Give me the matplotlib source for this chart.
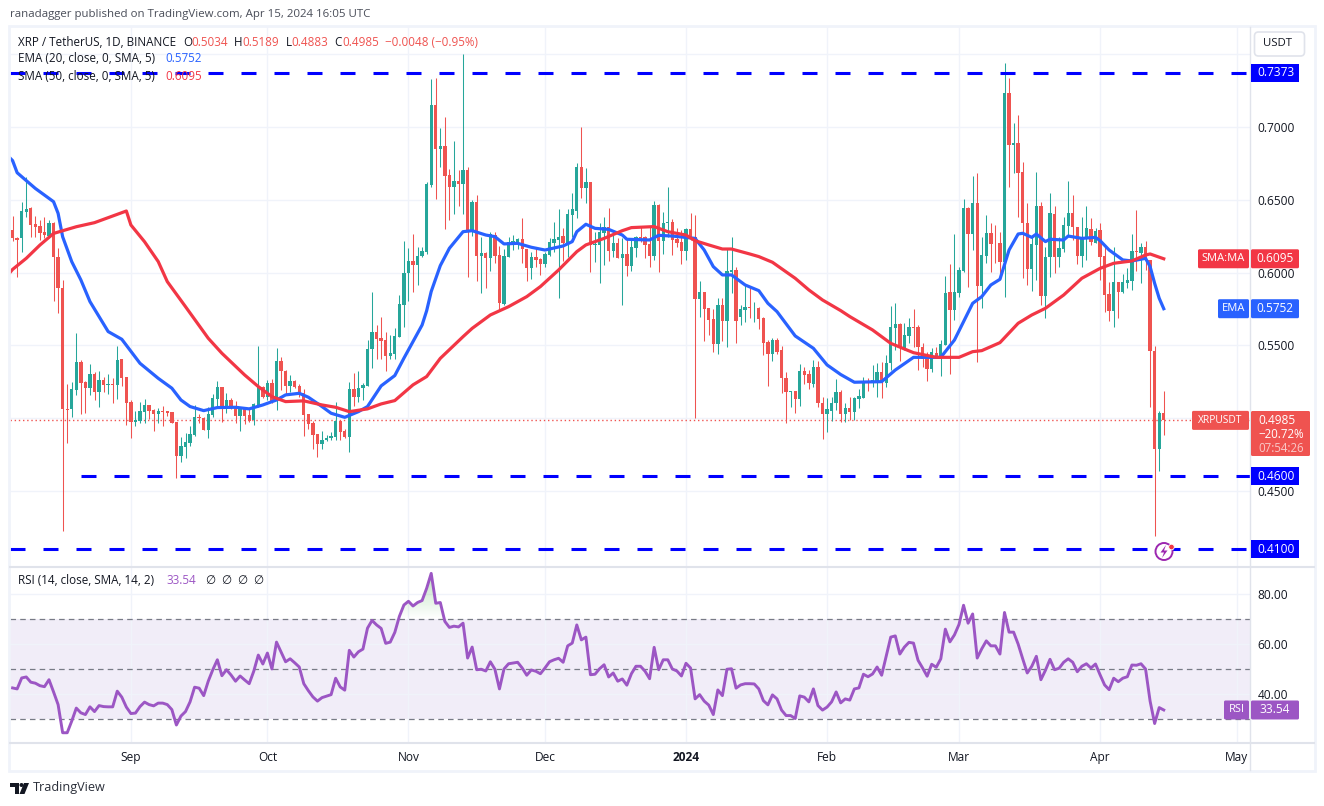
import numpy as np
import pandas as pd
import matplotlib
matplotlib.use("Agg")
import matplotlib.pyplot as plt
from matplotlib.patches import Rectangle, FancyBboxPatch, Circle, Polygon
from matplotlib.path import Path
from matplotlib.colors import LinearSegmentedColormap

plt.rcParams['font.family'] = ['Open Sans', 'DejaVu Sans']
plt.rcParams['lines.scale_dashes'] = False

W, H = 1324, 806

# daily candles, last one is Apr 15 2024 (day 105 counted from Jan 1)
opens = [
.6292,.6237,.6235,.6418,.6441,.6334,.6320,.6281,.6251,.6343,.6105,.5892,.5064,.5061,.5194,.5386,.5249,.5208,.5304,.5183,
.5263,.5231,.5235,.5229,.5405,.5283,.5112,.4977,.4981,.5041,.5091,.5057,.5029,.5052,.5048,.5041,.4974,.4741,.4805,.4832,
.4885,.5009,.5002,.4919,.5022,.5132,.5215,.5068,.5126,.5080,.5018,.5061,.5022,.4986,.5084,.5215,.5144,.5240,.5121,.5393,
.5327,.5222,.5256,.5222,.5171,.5029,.4965,.4892,.4823,.4851,.4865,.4874,.4979,.4910,.4874,.5199,.5148,.5206,.5224,.5474,
.5590,.5549,.5538,.5428,.5441,.5560,.5778,.5995,.6082,.6052,.6114,.6144,.6602,.7151,.6852,.6870,.6670,.6590,.6629,.6609,
.6705,.6281,.6483,.6114,.6132,.6103,.6258,.6121,.5785,.6110,.6208,.6208,.6231,.6160,.6034,.6105,.6093,.6059,.6121,.6201,
.6224,.6251,.6201,.6396,.6423,.6723,.6583,.6620,.6190,.6190,.6274,.6316,.6151,.6201,.6100,.6128,.6045,.6169,.6247,.6242,
.6197,.6114,.6464,.6220,.6341,.6348,.6231,.6213,.6149,.6297,.6242,.5819,.5865,.5755,.5679,.5510,.5778,.5670,.6004,.6018,
.5697,.5746,.5764,.5757,.5759,.5691,.5526,.5441,.5537,.5469,.5274,.5182,.5185,.5134,.5322,.5304,.5235,.5354,.5107,.5029,
.5052,.5102,.5182,.5029,.5068,.5045,.5134,.5141,.5258,.5254,.5244,.5320,.5244,.5377,.5620,.5647,.5480,.5565,.5629,.5629,
.5487,.5411,.5338,.5446,.5418,.5503,.5865,.5743,.5862,.6009,.6444,.6265,.6476,.5908,.6114,.6272,.6197,.6203,.6075,.7231,
.6877,.6888,.6691,.6343,.6025,.6190,.6458,.5840,.6105,.6403,.6105,.6162,.6322,.6407,.6316,.6114,.6242,.6300,.6206,.6290,
.6114,.5853,.5739,.5933,.5865,.5931,.5945,.6148,.6137,.6174,.6087,.5464,.4788,.5034]
highs = [
.6388,.6247,.6487,.6659,.6448,.6388,.6361,.6384,.6361,.6350,.6166,.5950,.5235,.5251,.5583,.5400,.5258,.5373,.5320,.5325,
.5281,.5304,.5274,.5496,.5409,.5285,.5125,.5052,.5114,.5130,.5093,.5064,.5071,.5084,.5052,.5045,.4976,.4869,.4901,.4947,
.5091,.5029,.5011,.5075,.5164,.5256,.5217,.5171,.5137,.5119,.5080,.5080,.5068,.5103,.5496,.5222,.5263,.5267,.5480,.5423,
.5331,.5297,.5263,.5235,.5199,.5029,.4984,.4892,.4913,.4885,.4908,.5109,.4984,.4924,.5251,.5309,.5325,.5245,.5538,.5865,
.5641,.5693,.5590,.5572,.5618,.5847,.6214,.6166,.6265,.6178,.6178,.6624,.7330,.7334,.6991,.7067,.6709,.6904,.6705,.7502,
.6723,.6499,.6533,.6247,.6144,.6281,.6281,.6183,.6160,.6247,.6258,.6235,.6373,.6164,.6144,.6174,.6100,.6144,.6235,.6345,
.6435,.6304,.6435,.6545,.6755,.7000,.6716,.6625,.6281,.6343,.6384,.6442,.6281,.6235,.6235,.6235,.6224,.6251,.6316,.6251,
.6316,.6492,.6471,.6419,.6586,.6366,.6304,.6293,.6304,.6407,.6396,.5942,.5869,.5755,.5748,.5823,.5823,.6160,.6242,.6036,
.5778,.5915,.5899,.5801,.5762,.5697,.5537,.5549,.5549,.5496,.5317,.5189,.5189,.5372,.5354,.5331,.5400,.5395,.5148,.5137,
.5148,.5267,.5194,.5102,.5148,.5144,.5198,.5281,.5274,.5366,.5377,.5388,.5434,.5771,.5789,.5652,.5652,.5686,.5748,.5640,
.5514,.5457,.5480,.5487,.5537,.5977,.6059,.6265,.6041,.6505,.6453,.6664,.6682,.6242,.6396,.6339,.6327,.6281,.7437,.7334,
.7025,.7083,.6762,.6476,.6258,.6691,.6487,.6178,.6545,.6458,.6247,.6384,.6629,.6533,.6316,.6384,.6458,.6373,.6304,.6339,
.6178,.5938,.6178,.5938,.5991,.6029,.6265,.6430,.6206,.6217,.6087,.5496,.5050,.5189]
lows = [
.6219,.5973,.6144,.6384,.6247,.6247,.6224,.6235,.6242,.5808,.5725,.4228,.4832,.5011,.5160,.5029,.5034,.5160,.5126,.5080,
.5183,.5167,.5107,.5132,.5222,.4954,.4867,.4947,.4970,.4970,.4997,.4913,.4970,.4947,.5016,.4965,.4590,.4702,.4729,.4812,
.4878,.4970,.4919,.4867,.5011,.5068,.4972,.5038,.5064,.4965,.4915,.4961,.4972,.4954,.5080,.5137,.5126,.5103,.5057,.5194,
.5160,.5183,.5206,.5148,.4880,.4924,.4791,.4736,.4789,.4840,.4851,.4851,.4851,.4862,.4771,.5084,.5114,.5126,.5222,.5348,
.5407,.5407,.5327,.5407,.5407,.5556,.5629,.5808,.5870,.5915,.6105,.6130,.6590,.6505,.6728,.6300,.6361,.6403,.6458,.6403,
.5972,.6254,.5945,.5862,.5897,.6013,.6068,.5739,.5778,.6110,.6155,.6160,.6068,.5945,.5958,.6041,.5983,.6036,.6116,.6144,
.5823,.6082,.6110,.6247,.6373,.6510,.6476,.6007,.6071,.5931,.6052,.6082,.6110,.6100,.5778,.5977,.6013,.6105,.6213,.6098,
.6036,.6087,.6007,.6128,.6247,.6121,.6174,.6059,.6087,.6224,.5001,.5698,.5533,.5572,.5455,.5443,.5531,.5491,.5858,.5519,
.5638,.5663,.5686,.5663,.5615,.5434,.5224,.5395,.5441,.5171,.4970,.5079,.5038,.5084,.5235,.5198,.5217,.5075,.4860,.4905,
.4983,.5056,.4976,.4976,.4988,.4988,.5068,.5137,.5189,.5217,.5143,.5137,.5212,.5331,.5469,.5391,.5469,.5514,.5492,.5331,
.5354,.5258,.5320,.5411,.5292,.5503,.5304,.5675,.5835,.6007,.5903,.6155,.5388,.5759,.6064,.6007,.6064,.5961,.5835,.6590,
.6687,.6384,.5961,.5915,.5876,.5950,.5778,.5686,.5972,.5995,.6041,.6144,.6258,.6224,.6059,.6041,.6087,.6190,.6201,.5950,
.5732,.5670,.5629,.5691,.5858,.5892,.5881,.6013,.5931,.6018,.5075,.4191,.4637,.4883]
closes = [
.6237,.6225,.6423,.6434,.6327,.6315,.6274,.6258,.6343,.6105,.5892,.5061,.5057,.5199,.5386,.5245,.5208,.5304,.5183,.5263,
.5231,.5235,.5231,.5400,.5279,.5107,.4977,.4986,.5050,.5091,.5052,.5029,.5050,.5045,.5039,.4970,.4741,.4810,.4837,.4892,
.5006,.5002,.4919,.5029,.5137,.5215,.5068,.5126,.5068,.5018,.5061,.5018,.4984,.5096,.5217,.5144,.5240,.5121,.5393,.5327,
.5222,.5256,.5212,.5164,.5022,.4961,.4885,.4823,.4851,.4865,.4878,.4984,.4908,.4874,.5199,.5148,.5208,.5229,.5476,.5590,
.5544,.5531,.5428,.5448,.5565,.5785,.5995,.6082,.6052,.6114,.6148,.6608,.7151,.6847,.6870,.6664,.6590,.6629,.6609,.6705,
.6281,.6483,.6116,.6132,.6103,.6265,.6116,.5789,.6114,.6208,.6215,.6231,.6160,.6034,.6105,.6087,.6059,.6128,.6208,.6229,
.6242,.6201,.6403,.6435,.6723,.6583,.6622,.6190,.6197,.6279,.6316,.6151,.6201,.6100,.6128,.6045,.6174,.6242,.6235,.6192,
.6114,.6464,.6220,.6341,.6348,.6224,.6201,.6149,.6297,.6236,.5819,.5865,.5752,.5675,.5510,.5778,.5670,.6011,.6018,.5670,
.5748,.5764,.5757,.5760,.5684,.5519,.5441,.5537,.5457,.5274,.5182,.5187,.5134,.5322,.5297,.5240,.5350,.5107,.5029,.5063,
.5102,.5182,.5029,.5068,.5045,.5137,.5153,.5258,.5251,.5263,.5320,.5244,.5382,.5624,.5647,.5480,.5572,.5624,.5620,.5491,
.5404,.5338,.5453,.5423,.5510,.5858,.5743,.5865,.6018,.6444,.6265,.6476,.5910,.6121,.6272,.6197,.6193,.6075,.7231,.6877,
.6888,.6687,.6343,.6025,.6197,.6458,.5842,.6105,.6410,.6110,.6167,.6327,.6407,.6316,.6116,.6247,.6304,.6213,.6288,.6110,
.5849,.5739,.5933,.5869,.5933,.5949,.6148,.6142,.6174,.6087,.5464,.4788,.5034,.4985]

ema_days = [-149,-148,-147,-143,-139,-138,-137,-135,-133,-131,-129,-127,-124,-120,-116,-113,-111,-109,-106,-103,-99,-96,-93,-90,-88,-85,-83,-80,-78,-75,-72,-70,-67,-64,-62,-58,-57,-56,-54,-52,-49,-47,-44,-42,-40,-37,-34,-31,-27,-25,-24,-22,-20,-17,-14,-13,-8,-6,-3,2,4,6,8,10,13,16,18,20,24,28,31,34,37,43,46,50,56,59,61,63,65,67,69,71,73,74,76,77,79,80,83,84,87,90,91,93,96,98,101,102,103,104,105]
ema_vals = [.6800,.6769,.6686,.6578,.6487,.6407,.6246,.6075,.5950,.5801,.5698,.5595,.5542,.5377,.5274,.5206,.5125,.5080,.5052,.5073,.5075,.5064,.5091,.5125,.5160,.5171,.5144,.5080,.5034,.5006,.5045,.5080,.5222,.5293,.5412,.5640,.5738,.5870,.6048,.6167,.6281,.6288,.6258,.6247,.6197,.6201,.6174,.6155,.6183,.6213,.6281,.6332,.6304,.6297,.6258,.6229,.6224,.6256,.6251,.6235,.6155,.6041,.5984,.5984,.5915,.5876,.5789,.5732,.5565,.5480,.5366,.5300,.5247,.5251,.5331,.5418,.5418,.5537,.5663,.5789,.5835,.5915,.5954,.6155,.6265,.6270,.6242,.6265,.6213,.6229,.6224,.6251,.6235,.6242,.6220,.6155,.6087,.6080,.6098,.6041,.5926,.5824,.5752]
sma_days = [-149,-148,-145,-142,-139,-134,-130,-123,-122,-119,-116,-114,-110,-105,-102,-97,-94,-91,-88,-84,-80,-77,-74,-70,-67,-64,-60,-57,-54,-49,-47,-43,-39,-35,-32,-28,-24,-22,-18,-14,-12,-7,-4,0,2,5,8,10,14,16,19,24,27,30,34,36,41,45,50,55,60,63,65,69,73,76,79,83,87,91,94,98,101,102,105]
sma_vals = [.5985,.6022,.6098,.6189,.6269,.6315,.6343,.6423,.6327,.6212,.6076,.5938,.5766,.5549,.5446,.5297,.5217,.5148,.5114,.5119,.5091,.5075,.5045,.5064,.5098,.5121,.5229,.5286,.5411,.5560,.5617,.5709,.5766,.5835,.5904,.6018,.6144,.6190,.6235,.6288,.6309,.6316,.6281,.6258,.6219,.6190,.6162,.6162,.6128,.6110,.6071,.5961,.5881,.5812,.5739,.5698,.5606,.5514,.5450,.5418,.5418,.5457,.5464,.5519,.5652,.5709,.5755,.5846,.5961,.6029,.6064,.6080,.6121,.6128,.6095]

rsi_vals = [
42.4,42.0,46.4,46.8,44.7,44.3,43.3,42.9,45.7,40.8,35.7,24.4,24.4,29.1,34.3,32.4,31.7,34.8,32.9,35.3,34.9,34.8,34.8,41.1,38.7,34.7,32.1,32.3,34.9,36.7,
35.7,35.2,36.3,36.3,35.7,33.7,27.5,31.1,32.9,36.8,42.7,42.3,39.3,45.1,49.7,53.7,47.3,49.7,47.6,45.1,47.2,45.6,44.1,49.1,55.6,52.0,56.4,50.0,60.8,56.8,
52.9,54.1,52.5,50.8,44.1,41.3,38.8,37.1,38.5,39.1,39.7,46.3,42.8,41.5,57.5,54.8,56.9,58.0,66.4,69.5,67.7,66.3,60.3,60.8,64.7,71.1,75.7,77.2,75.3,76.7,
77.5,82.4,88.4,76.4,76.7,69.1,66.7,67.2,66.9,68.4,54.4,58.8,49.7,49.9,49.2,52.9,49.9,42.0,50.0,52.1,52.4,52.7,50.4,47.5,49.6,49.1,48.1,50.4,52.9,53.7,
54.3,52.7,59.3,60.4,67.7,61.7,62.8,47.7,47.9,50.1,51.7,46.8,48.4,45.1,46.0,43.5,48.1,51.1,51.1,49.1,46.1,58.7,49.7,
53.7,53.7,50.0,49.2,47.2,52.3,50.4,38.0,39.7,37.1,35.5,31.7,41.6,39.3,49.9,50.1,42.3,43.6,44.1,44.1,44.0,42.0,37.3,35.6,39.6,38.0,33.5,31.3,31.3,30.1,
39.2,38.7,36.8,42.0,35.3,33.5,34.7,36.8,40.8,36.4,38.0,37.5,42.0,42.4,47.9,46.9,48.0,50.8,47.5,55.1,62.8,63.3,56.0,58.8,60.7,60.4,53.5,50.4,47.1,51.9,
50.7,54.1,66.0,60.9,63.7,67.9,75.6,68.4,72.1,54.4,58.1,61.3,59.3,59.3,56.0,72.7,64.8,64.8,60.0,54.1,48.4,51.1,55.1,45.7,49.5,53.9,49.7,50.3,52.7,54.1,
52.7,48.9,51.1,52.1,50.4,52.0,47.7,43.6,41.7,46.3,44.9,46.3,46.9,51.6,51.5,52.1,50.0,37.1,28.1,34.5,33.54]

levels = [0.7373, 0.46, 0.41]
price_ticks = [0.75, 0.70, 0.65, 0.60, 0.55, 0.50, 0.45]
rsi_ticks = [40, 60, 80]
month_names = ['Sep', 'Oct', 'Nov', 'Dec', '2024', 'Feb', 'Mar', 'Apr', 'May']
month_dates = ['2023-09-01', '2023-10-01', '2023-11-01', '2023-12-01', '2024-01-01',
               '2024-02-01', '2024-03-01', '2024-04-01', '2024-05-01']

GREEN = '#26a69a'
RED = '#ef5350'
BLUE = '#2962ff'
MA_RED = '#f23645'
PURPLE = '#9c56c4'
GRID = '#f0f3fa'
BORDER = '#e0e3eb'
TXT = '#131722'
FS = 8.4

# pixel layout of the panes
X0, X1 = 10, 1250
Y0, Y1, Y2, Y3 = 27, 566, 567, 743
PX_DAY = 4.55
JAN1 = 686

def pane(x0, y0, x1, y1):
    return fig.add_axes([x0 / W, 1 - y1 / H, (x1 - x0) / W, (y1 - y0) / H])

def price_y(p):
    return 127 + (0.7 - p) * 1456

fig = plt.figure(figsize=(W / 100, H / 100), dpi=100, facecolor='white')
ax = pane(X0, Y0, X1, Y1)
ax2 = pane(X0, Y2, X1, Y3)
top = fig.add_axes([0, 0, 1, 1], zorder=10)
top.set_xlim(0, W)
top.set_ylim(H, 0)
top.axis('off')

n = len(closes)
days = np.arange(105 - n + 1, 106)
o = np.array(opens)
h = np.array(highs)
l = np.array(lows)
c = np.array(closes)
cols = np.where(c >= o, GREEN, RED)

xlim = ((X0 - JAN1) / PX_DAY, (X1 - JAN1) / PX_DAY)
month_days = [(pd.Timestamp(d) - pd.Timestamp('2024-01-01')).days for d in month_dates]

for a in (ax, ax2):
    a.set_xticks(month_days)
    a.grid(True, color=GRID, lw=1)
    a.set_axisbelow(True)
    for s in a.spines.values():
        s.set_visible(False)
    a.yaxis.tick_right()
    a.tick_params(length=0, labelsize=8.6, labelcolor=TXT)

# candles
ax.vlines(days, l, h, colors=cols, lw=0.75, zorder=2)
ax.bar(days, np.maximum(np.abs(c - o), 0.0003), bottom=np.minimum(o, c), width=0.74, color=cols, lw=0, zorder=3)

ax.plot(ema_days, ema_vals, color=BLUE, lw=2.3, zorder=4, solid_joinstyle='round')
ax.plot(sma_days, sma_vals, color=MA_RED, lw=2.3, zorder=4, solid_joinstyle='round')

# horizontal levels
dash = (0, (10.8, 12.96))
ax.plot(xlim, [levels[0]] * 2, color='#0000ff', lw=2.2, ls=dash, dash_capstyle='butt', zorder=5)
ax.plot([(81 - JAN1) / PX_DAY, xlim[1]], [levels[1]] * 2, color='#0000ff', lw=2.2, ls=dash, dash_capstyle='butt', zorder=5)
ax.plot(xlim, [levels[2]] * 2, color='#0000ff', lw=2.2, ls=dash, dash_capstyle='butt', zorder=5)
ax.axhline(closes[-1], color=RED, lw=1, ls=(0, (1, 2)), zorder=1)

ax.set_xlim(xlim)
ax.set_ylim(0.7 - (Y1 - 127) / 1456, 0.7 + (127 - Y0) / 1456)
# 0.7500 and 0.5000 have a grid line but no visible label in the picture
ax.set_yticks(price_ticks, ['' if t in (0.75, 0.50) else '%.4f' % t for t in price_ticks])
ax.set_xticklabels([])
ax.tick_params(axis='y', pad=5.5)

# rsi pane
rsi = np.array(rsi_vals)
rsi_days = np.arange(105 - len(rsi) + 1, 106)
ax2.axhspan(30, 70, color='#7e57c2', alpha=0.1, lw=0, zorder=0.5)
for v in (70, 50, 30):
    ax2.axhline(v, color='#787b86', lw=0.9, ls=(0, (4, 3)), zorder=1)
over = ax2.fill_between(rsi_days, 70, rsi, where=rsi > 70, interpolate=True, color='none')
cm = LinearSegmentedColormap.from_list('ob', [(0.3, 0.69, 0.31, 0.0), (0.3, 0.69, 0.31, 0.4)])
im = ax2.imshow(np.linspace(1, 0, 64).reshape(-1, 1), extent=[xlim[0], xlim[1], 70, 90], aspect='auto', cmap=cm, zorder=1.5)
im.set_clip_path(Path.make_compound_path(*over.get_paths()), transform=ax2.transData)
ax2.plot(rsi_days, rsi, color=PURPLE, lw=2.1, zorder=3, solid_joinstyle='round')
ax2.set_xlim(xlim)
ax2.set_ylim(50 - (Y3 - 669) / 2.49, 50 + (669 - Y2) / 2.49)
ax2.set_yticks(rsi_ticks, ['%.2f' % t for t in rsi_ticks])
ax2.tick_params(axis='y', pad=5.5)
ax2.set_xticklabels(month_names)
ax2.tick_params(axis='x', pad=6, labelsize=8.6)
for t in ax2.get_xticklabels():
    if t.get_text() == '2024':
        t.set_fontweight('bold')

# frame lines
top.add_patch(Rectangle((8.5, 25.5), 1306, 745, fill=False, ec=GRID, lw=2))
top.plot([X1, X1], [27, 770], color=BORDER, lw=1)
top.plot([X0, 1314], [Y1 + 0.5, Y1 + 0.5], color=BORDER, lw=1.5)
top.plot([X0, 1314], [Y3, Y3], color=BORDER, lw=1.5)

def label(x0, x1, yc, text, bg, fg='white', hgt=19, size=8.6):
    top.add_patch(FancyBboxPatch((x0, yc - hgt / 2), x1 - x0, hgt, boxstyle='round,pad=0,rounding_size=1.5',
                                 fc=bg, ec='none', zorder=3))
    top.text((x0 + x1) / 2, yc, text, color=fg, fontsize=size, ha='center', va='center', zorder=4)

for p in levels:
    top.add_patch(Rectangle((1251, price_y(p) - 9), 48, 18, fc='#0000ff', ec='none', zorder=3))
    top.text(1276, price_y(p), '%.4f' % p, color='white', fontsize=8.6, ha='center', va='center', zorder=4)

label(1198, 1249, price_y(sma_vals[-1]), 'SMA:MA', MA_RED, size=8.0)
label(1251, 1299, price_y(sma_vals[-1]), '%.4f' % sma_vals[-1], MA_RED)
label(1218, 1249, price_y(ema_vals[-1]), 'EMA', BLUE, size=8.0)
label(1251, 1299, price_y(ema_vals[-1]), '%.4f' % ema_vals[-1], BLUE)
label(1192, 1249, price_y(closes[-1]), 'XRPUSDT', RED, size=7.4)
top.add_patch(FancyBboxPatch((1251, 411), 59, 45, boxstyle='round,pad=0,rounding_size=1.5', fc=RED, ec='none', zorder=3))
top.text(1258, 420.5, '%.4f' % closes[-1], color='white', fontsize=8.6, ha='left', va='center', zorder=4)
top.text(1258, 435, '\u221220.72%', color='white', fontsize=8.3, ha='left', va='center', zorder=4)
top.text(1258, 449, '07:54:26', color='#f9c9c8', fontsize=8.3, ha='left', va='center', zorder=4)
rsi_y = 669 - (rsi_vals[-1] - 50) * 2.49
label(1224, 1249, rsi_y, 'RSI', PURPLE, size=8.0)
label(1251, 1299, rsi_y, '%.2f' % rsi_vals[-1], PURPLE)

top.add_patch(FancyBboxPatch((1254.5, 32), 50, 24, boxstyle='round,pad=0,rounding_size=4', fc='white', ec=BORDER, lw=1.2, zorder=3))
top.text(1277, 44, 'USDT', color=TXT, fontsize=8.2, ha='center', va='center', zorder=4)

# legends
top.text(10, 15, 'ranadagger published on TradingView.com, Apr 15, 2024 16:05 UTC', color='#4a4e59', fontsize=8.25, va='center')
line1 = [(18, 'XRP / TetherUS, 1D, BINANCE', TXT), (183, 'O', TXT), (191, '0.5034', RED), (234, 'H', TXT), (242, '0.5189', RED),
         (286, 'L', TXT), (291, '0.4883', RED), (334, 'C', TXT), (342, '0.4985', RED), (385, '\u22120.0048 (\u22120.95%)', RED)]
for x, s, col in line1:
    top.text(x, 42, s, color=col, fontsize=FS, va='center')
top.text(18, 59, 'EMA (20, close, 0, SMA, 5)', color=TXT, fontsize=FS, va='center')
top.text(165, 59, '0.5752', color=BLUE, fontsize=FS, va='center')
top.text(18, 76, 'SMA (50, close, 0, SMA, 5)', color=TXT, fontsize=FS, va='center')
top.text(165, 76, '0.6095', color=MA_RED, fontsize=FS, va='center')
top.text(18, 580, 'RSI (14, close, SMA, 14, 2)', color=TXT, fontsize=FS, va='center')
top.text(166, 580, '33.54', color=PURPLE, fontsize=FS, va='center')
for x in (205, 221, 237, 253):
    top.text(x, 580, '\u2205', color=TXT, fontsize=FS, va='center')

# lightning mark on the last candle
top.add_patch(Circle((1164, 551.5), 8.5, fc='white', ec='#9c27b0', lw=1.4, zorder=6))
top.add_patch(Polygon([(1166, 545), (1160.5, 552.5), (1164, 552.5), (1162, 558), (1167.5, 550.5), (1164, 550.5)],
                      fc='#9c27b0', ec='none', zorder=7))
top.add_patch(Circle((1171.5, 547), 2.8, fc=MA_RED, ec='white', lw=0.6, zorder=8))

# footer logo
top.add_patch(Polygon([(10, 783), (19, 783), (19, 794), (15, 794), (15, 787), (10, 787)], fc=TXT, ec='none'))
top.add_patch(Circle((21.5, 785), 2, fc=TXT, ec='none'))
top.add_patch(Polygon([(24, 783), (29, 783), (24.5, 794), (19.5, 794)], fc=TXT, ec='none'))
top.text(33, 788, 'TradingView', color='#2a2e39', fontsize=9.1, va='center')

fig.savefig('out.png', dpi=100)
